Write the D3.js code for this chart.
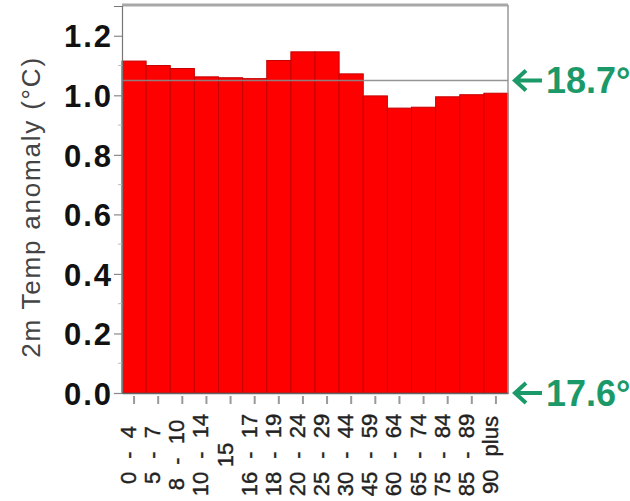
<!DOCTYPE html>
<html>
<head>
<meta charset="utf-8">
<script src="https://cdn.jsdelivr.net/npm/d3@7"></script>
<style>
  body { margin: 0; background: #fff; }
  text { font-family: "Liberation Sans", Arial, sans-serif; }
</style>
</head>
<body>
<div id="svg"></div>
<script>
// age groups and the temperature anomaly of each one
var ageGroups = ["0 - 4", "5 - 7", "8 - 10", "10 - 14", "15", "16 - 17", "18 - 19", "20 - 24",
  "25 - 29", "30 - 44", "45 - 59", "60 - 64", "65 - 74", "75 - 84", "85 - 89", "90 plus"];
var anomaly = [1.115, 1.10, 1.09, 1.062, 1.059, 1.056, 1.117, 1.146,
  1.146, 1.072, 0.998, 0.957, 0.96, 0.995, 1.002, 1.007];
var yTicks = [0.0, 0.2, 0.4, 0.6, 0.8, 1.0, 1.2];
var refValues = [1.05, 0.0];
var refLabels = ["18.7°", "17.6°"];

var width = 630;
var height = 501;

var plotLeft = 122, plotRight = 508, plotTop = 6, plotBottom = 393;
var green = "#1b9968";

var x_axis = d3.scaleBand().domain(ageGroups).range([plotLeft, plotRight]).padding(0);
var y_axis = d3.scaleLinear().domain([0, 1.3]).range([plotBottom, plotTop]);

var svg = d3.select("#svg").append("svg")
  .attr("width", width)
  .attr("height", height);

// bars
svg.selectAll(".bar")
  .data(anomaly)
  .enter().append("rect")
  .attr("class", "bar")
  .attr("x", function(d, i) { return x_axis(ageGroups[i]); })
  .attr("width", x_axis.bandwidth())
  .attr("y", function(d) { return y_axis(d); })
  .attr("height", function(d) { return y_axis(0) - y_axis(d); })
  .attr("fill", "#ff0000")
  .attr("stroke", "#c40000")
  .attr("stroke-width", 1);

// frame
svg.append("line")
  .attr("x1", plotLeft).attr("x2", plotRight)
  .attr("y1", plotTop - 1).attr("y2", plotTop - 1)
  .attr("stroke", "#a8a8a8").attr("stroke-width", 3);
svg.append("line")
  .attr("x1", plotRight).attr("x2", plotRight)
  .attr("y1", plotTop - 1).attr("y2", plotBottom)
  .attr("stroke", "#999").attr("stroke-width", 1.5);

// reference line
svg.append("line")
  .attr("x1", plotLeft).attr("x2", plotRight)
  .attr("y1", y_axis(refValues[0])).attr("y2", y_axis(refValues[0]))
  .attr("stroke", "#8a8a8a").attr("stroke-width", 1.5)
  .attr("opacity", 0.9);

// y axis
var yAxis = svg.append("g")
  .attr("transform", "translate(" + plotLeft + ",0)")
  .call(d3.axisLeft(y_axis).tickValues(yTicks).tickSize(8).tickPadding(3)
    .tickFormat(d3.format(".1f")));
yAxis.select(".domain").attr("stroke", "#777").attr("stroke-width", 1.2);
yAxis.selectAll(".tick line").attr("stroke", "#888").attr("stroke-width", 1.2);
yAxis.selectAll(".tick text")
  .attr("font-size", 31)
  .attr("font-weight", "bold")
  .attr("fill", "#111")
  .attr("letter-spacing", 2)
  .attr("dx", 2)
  .attr("dy", "0.36em");

// minor ticks
svg.append("g")
  .selectAll("line")
  .data(d3.range(1, 13, 2).map(function(v) { return v / 10; }))
  .enter().append("line")
  .attr("x1", plotLeft - 4).attr("x2", plotLeft)
  .attr("y1", function(d) { return y_axis(d); })
  .attr("y2", function(d) { return y_axis(d); })
  .attr("stroke", "#bbb").attr("stroke-width", 1);

svg.append("text")
  .text("2m Temp anomaly (°C)")
  .attr("transform", "translate(40," + 207 + ") rotate(-90)")
  .attr("text-anchor", "middle")
  .attr("font-size", 26)
  .attr("letter-spacing", 1.8)
  .attr("fill", "#444");

// x axis
var xAxis = svg.append("g")
  .attr("transform", "translate(0," + plotBottom + ")")
  .call(d3.axisBottom(x_axis).tickSize(0).tickFormat(""));
xAxis.select(".domain").attr("stroke", "#666").attr("stroke-width", 1.5);

svg.append("g")
  .selectAll("line")
  .data(ageGroups)
  .enter().append("line")
  .attr("x1", function(d) { return x_axis(d) + x_axis.bandwidth() / 2; })
  .attr("x2", function(d) { return x_axis(d) + x_axis.bandwidth() / 2; })
  .attr("y1", plotBottom + 3).attr("y2", plotBottom + 11)
  .attr("stroke", "#999").attr("stroke-width", 2);

svg.append("g")
  .selectAll("text")
  .data(ageGroups)
  .enter().append("text")
  .text(function(d) { return d; })
  .attr("transform", function(d) {
    return "translate(" + (x_axis(d) + x_axis.bandwidth() / 2 + 2) + ",455) rotate(-90)";
  })
  .attr("text-anchor", "middle")
  .attr("font-size", 22)
  .attr("word-spacing", 7)
  .attr("stroke", "#222")
  .attr("stroke-width", 0.4)
  .attr("fill", "#222");

// reference annotations on the right
var ref = svg.append("g")
  .selectAll("g")
  .data(refValues)
  .enter().append("g")
  .attr("transform", function(d) { return "translate(0," + y_axis(d) + ")"; });

ref.append("path")
  .attr("d", "M542,0 L515,0 M526,-10 L515,0 L526,10")
  .attr("fill", "none")
  .attr("stroke", green)
  .attr("stroke-width", 4);

ref.append("text")
  .text(function(d, i) { return refLabels[i]; })
  .attr("x", 546)
  .attr("dy", "0.36em")
  .attr("font-size", 36)
  .attr("font-weight", "bold")
  .attr("fill", green);
</script>
</body>
</html>
